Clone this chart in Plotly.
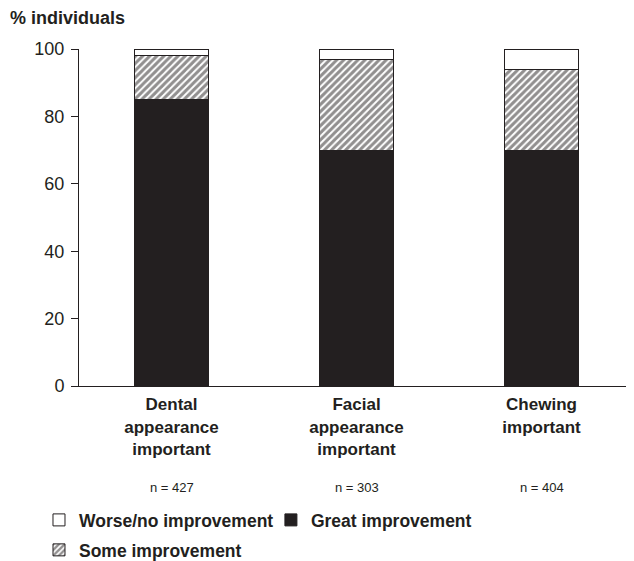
import plotly.graph_objects as go

categories = ["Dental<br>appearance<br>important", "Facial<br>appearance<br>important", "Chewing<br>important"]
n_labels = ["n = 427", "n = 303", "n = 404"]
great = [85, 70, 70]
some = [13, 27, 24]
worse = [2, 3, 6]
y_ticks = [0, 20, 40, 60, 80, 100]

DARK = "#231f20"
FONT = "Liberation Sans, Arial, Helvetica, sans-serif"
x = [0, 1, 2]

fig = go.Figure()
fig.add_trace(go.Bar(
    x=x, y=great, name="Great improvement", legend="legend3",
    marker=dict(color=DARK, line=dict(color=DARK, width=1)),
    width=0.405,
))
fig.add_trace(go.Bar(
    x=x, y=some, name="Some improvement", legend="legend2",
    marker=dict(color="white", line=dict(color=DARK, width=1),
                pattern=dict(shape="/", fgcolor=DARK, bgcolor="white", size=5, solidity=0.6)),
    width=0.405,
))
fig.add_trace(go.Bar(
    x=x, y=worse, name="Worse/no improvement", legend="legend",
    marker=dict(color="white", line=dict(color=DARK, width=1)),
    width=0.405,
))

for xi, lab in zip(x, n_labels):
    fig.add_annotation(x=xi, y=-0.30, xref="x", yref="paper", text=lab, showarrow=False,
                       font=dict(size=13, color=DARK, family=FONT), yanchor="middle")

fig.add_annotation(x=-0.128, y=1.092, xref="paper", yref="paper", text="<b>% individuals</b>",
                   showarrow=False, xanchor="left", yanchor="middle",
                   font=dict(size=18, color=DARK, family=FONT))

legend_font = dict(size=17.5, color=DARK, family=FONT, weight="bold")
common = dict(orientation="h", xanchor="left", yanchor="middle", xref="container",
              yref="container", font=legend_font, itemwidth=30,
              bgcolor="rgba(0,0,0,0)", borderwidth=0)

fig.update_layout(
    barmode="stack",
    width=626, height=553,
    margin=dict(l=71, r=0, t=41, b=175),
    paper_bgcolor="white", plot_bgcolor="white",
    font=dict(family=FONT, color=DARK),
    showlegend=True,
    legend=dict(x=0.0495, y=0.0741, **common),
    legend3=dict(x=0.420, y=0.0741, **common),
    legend2=dict(x=0.0495, y=0.0199, **common),
    xaxis=dict(range=[-0.5, 2.5], tickmode="array", tickvals=x,
               ticktext=["<b>" + c + "</b>" for c in categories],
               tickfont=dict(size=17, color=DARK, family=FONT),
               showline=True, linecolor=DARK, linewidth=1, ticks="", showgrid=False,
               zeroline=False, fixedrange=True, ticklabelstandoff=3),
    yaxis=dict(range=[0, 100], tickmode="array", tickvals=y_ticks,
               tickfont=dict(size=18, color=DARK, family=FONT),
               showline=True, linecolor=DARK, linewidth=1, ticks="outside", ticklen=7,
               tickcolor=DARK, showgrid=False, zeroline=False, fixedrange=True,
               ticklabelstandoff=3),
)

fig.write_html("out.html")
